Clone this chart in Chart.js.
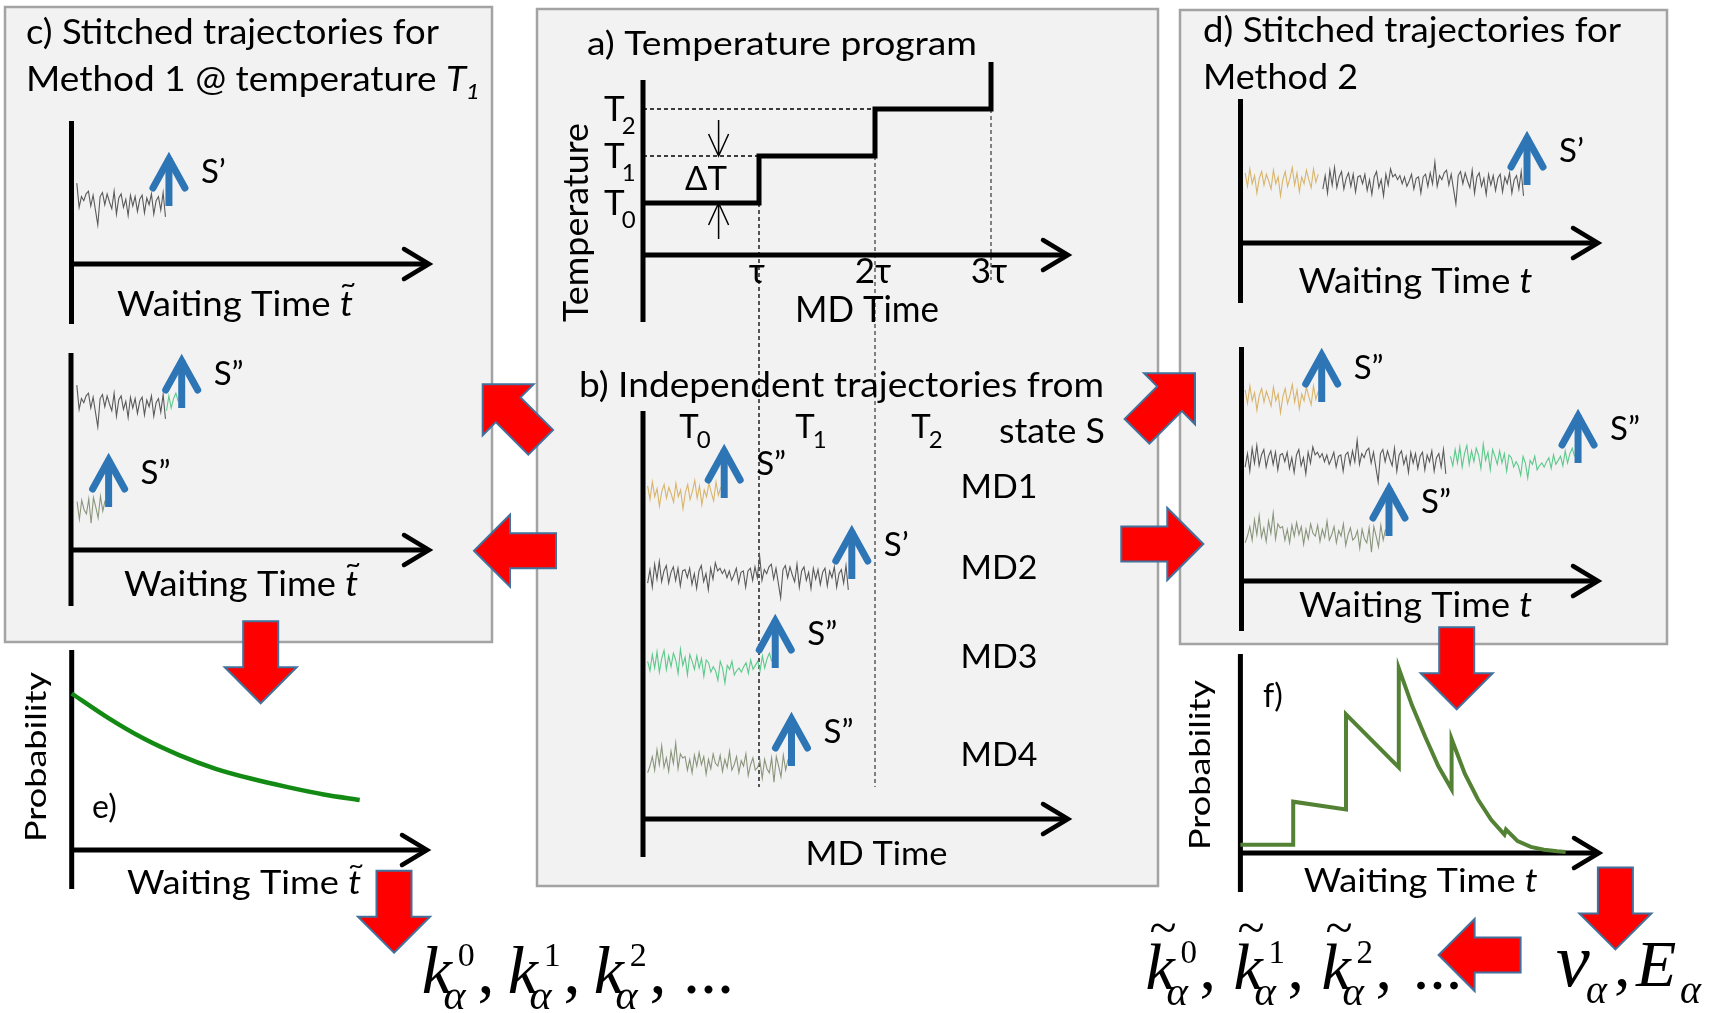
<!DOCTYPE html>
<html>
<head>
<meta charset="utf-8">
<script src="https://cdn.jsdelivr.net/npm/chart.js@4.4.1/dist/chart.umd.min.js"></script>
<style>
  html, body { margin: 0; padding: 0; background: #fff; }
  #fig { position: absolute; left: 0; top: 0; }
</style>
</head>
<body>
<canvas id="fig" width="1733" height="1013"></canvas>
<script>
// ---------------- data ----------------
// a) temperature program (MD time in units of tau)
const stepTimes = [0, 1, 2, 3];
const stepTemps = [300, 350, 400, 450];
const tempNames = ['0', '1', '2'];
const tauTicks = [1, 2, 3];
const tauTickLabels = ['τ', '2τ', '3τ'];

// b) independent MD trajectories
const mdNames = ['MD1', 'MD2', 'MD3', 'MD4'];
const exitTimes = [0.67, 1.77, 1.11, 1.25];
const exitStates = ['S\u201D', 'S\u2019', 'S\u201D', 'S\u201D'];
const trajStart = 0.04;

const md1Noise = [6, -4, 9, -2, 4, -9, 2, 7, -3, 5, 0, -6, 8, -2, 3, -11,
  1, 7, -4, 2, 10, -3, 6, -8, 3, -2, 8, 1, -5, 9, -1, 5];
const md2Noise = [-6, 4, -9, 8, -3, 10, -5, 3, 7, -6,
  2, 6, -4, 5, -8, 3, 4, -2, 5, -7,
  1, -10, 3, 7, -5, 1, -11, 5, -3, 9,
  3, 5, 1, 4, -2, 3, -4, 0, 5, -6,
  2, 3, -9, 3, 5, -4, 6, -2, 14, -4,
  4, 1, 6, 8, -3, 5, -6, -17, 4, 7,
  -2, 6, 0, -5, 8, -9, 3, 6, -4, 2,
  -10, 5, -3, 4, -7, 2, 5, -8, 3, -2,
  6, -9, 1, 4, -6, 7, -11];
const md3Noise = [2, -5, 7, -3, 9, -6, 4, 10, -4, 6,
  -2, 8, 3, -7, 11, -1, 5, -8, 7, 2,
  -4, 6, -3, 4, -9, 3, 1, -6, -2, -5,
  -12, 2, -3, -14, -1, -4, 2, -8, -5, -3,
  -6, -2, 1, -7, 3, -4, -1, 2, -5, 6,
  -3, 4, 8, 2];
const md4Noise = [-8, -3, 4, -6, 9, -2, 12, -4, 3, -7,
  8, -1, 14, -5, 6, 3, 4, -6, 2, -8,
  5, -3, 7, -2, 4, -9, 2, -5, 6, -1,
  -3, 5, -7, 2, -4, 8, -6, -2, 4, -8,
  1, -3, 6, -10, -2, 3, -6, -4, 1, -12,
  2, -5, -8, 3, -15, 4, -3, -11, 5, -6,
  2];

// e) waiting time distribution, method 1
const decayTime = [0, 1, 2, 3, 4, 5, 6, 7, 8];
const decayProb = [1.0, 0.846, 0.712, 0.605, 0.519, 0.455, 0.402, 0.355, 0.32];

// f) waiting time distribution, method 2 (time in units of tau)
const sawTime = [0, 1, 1, 2, 2, 3, 3, 3.25, 3.5, 3.75, 4, 4, 4.25, 4.5, 4.75, 5, 5.03, 5.25, 5.5, 5.75, 6, 6.16];
const sawProb = [0.045, 0.045, 0.278, 0.236, 0.751, 0.464, 1.0, 0.8, 0.63, 0.47, 0.345, 0.618, 0.43, 0.29, 0.18, 0.10, 0.127, 0.064, 0.033, 0.018, 0.009, 0.005];

// ---------------- styles / layout ----------------
const W = 1733, H = 1013;
const SANS = "Lato, 'Noto Sans', 'DejaVu Sans', sans-serif";
const SERIF = "'Liberation Serif', 'Times New Roman', serif";
const mdColors = ['#d9b56c', '#5a5a5a', '#5cc98a', '#8a967c'];
const BLUE = '#2e75b6';
const SIG_K = 1.35; // px per signal unit

const BOXES = [[5, 7, 492, 642], [537, 9, 1158, 886], [1180, 10, 1667, 644]];
// lane centres of the trajectories, px above each x axis
const LANES_PX = { b: [325, 244, 155, 57], c1: [62], c2: [146, 47], d1: [62], d2: [183, 122, 49] };
const AXES = [
  { x: 643, y: 255, top: 80, bottom: 322, tip: 1073 },
  { x: 643, y: 819, top: 411, bottom: 857, tip: 1073 },
  { x: 71.5, y: 264, top: 121, bottom: 324, tip: 434 },
  { x: 71, y: 550, top: 353, bottom: 606, tip: 434 },
  { x: 1240.5, y: 243, top: 99, bottom: 303, tip: 1603 },
  { x: 1241.5, y: 581, top: 347, bottom: 631, tip: 1603 },
  { x: 71.7, y: 850, top: 650, bottom: 889, tip: 432 },
  { x: 1240.4, y: 853, top: 654, bottom: 892, tip: 1604 }
];
// red block arrows: tip and pointing direction (deg)
const RED_ARROWS = [
  [260.7, 703.3, 90], [1456.7, 709.3, 90], [394, 952.7, 90], [1615.4, 949.4, 90],
  [1438.6, 955, 180], [474, 550.7, 180], [1203.3, 544, 0],
  [482.7, 384.3, 225], [1195, 373.3, -45]
];

function xLin(ox, kx) {
  return { type: 'linear', position: 'bottom', display: false, bounds: 'data', min: -ox / kx, max: (W - ox) / kx };
}
function yLin(oy, ky, v0 = 0) {
  return { type: 'linear', position: 'left', display: false, bounds: 'data', min: v0 + (oy - H) / ky, max: v0 + oy / ky };
}

const scales = {
  xAB: xLin(643, 116), yT: yLin(203, 0.94, 300), yB: yLin(819, SIG_K),
  xC: xLin(71.5, 116), yC1: yLin(264, SIG_K), yC2: yLin(550, SIG_K),
  xD: xLin(1240.5, 116), yD1: yLin(243, SIG_K), yD2: yLin(581, SIG_K),
  xE: xLin(71.7, 36), yE: yLin(850, 156.5),
  xF: xLin(1240.4, 52.8), yF: yLin(853, 184.6)
};
const LANES = {};
for (const k in LANES_PX) LANES[k] = LANES_PX[k].map(p => p / SIG_K);

// ---------------- build series ----------------
const noises = [md1Noise, md2Noise, md3Noise, md4Noise];
const md = noises.map((nz, i) => nz.map((v, k) => ({
  t: trajStart + (exitTimes[i] - trajStart) * k / (nz.length - 1), v
})));
const atT1 = i => md[i].filter(p => p.t >= stepTimes[1] && p.t <= stepTimes[2]);
const shift = (pts, dt) => pts.map(p => ({ t: p.t + dt, v: p.v }));
const last = pts => pts[pts.length - 1].t;

const datasets = [];
const exits = [];
function trace(pts, lane, xID, yID, color) {
  datasets.push({
    data: pts.map(p => ({ x: p.t, y: lane + p.v })), xAxisID: xID, yAxisID: yID,
    borderColor: color, borderWidth: 1.1, pointRadius: 0, tension: 0, fill: false
  });
}
function exitAt(pts, lane, xID, yID, label) {
  exits.push({ t: last(pts), lane, xID, yID, label });
}

// a) step program
datasets.push({
  data: stepTimes.map((t, i) => ({ x: t, y: stepTemps[i] })), xAxisID: 'xAB', yAxisID: 'yT',
  stepped: 'before', borderColor: '#000', borderWidth: 5, pointRadius: 0,
  borderJoinStyle: 'miter', borderCapStyle: 'butt'
});
// b) MD1..MD4
md.forEach((pts, i) => {
  trace(pts, LANES.b[i], 'xAB', 'yB', mdColors[i]);
  exitAt(pts, LANES.b[i], 'xAB', 'yB', exitStates[i]);
});
// c) method 1, segments at T1
const c2seg = shift(atT1(1), trajStart - stepTimes[1]);
trace(c2seg, LANES.c1[0], 'xC', 'yC1', mdColors[1]);
exitAt(c2seg, LANES.c1[0], 'xC', 'yC1', exitStates[1]);
trace(c2seg, LANES.c2[0], 'xC', 'yC2', mdColors[1]);
const c3seg = shift(atT1(2), last(c2seg) - stepTimes[1]);
trace(c3seg, LANES.c2[0], 'xC', 'yC2', mdColors[2]);
exitAt(c3seg, LANES.c2[0], 'xC', 'yC2', exitStates[2]);
const c4seg = shift(atT1(3), trajStart - stepTimes[1]);
trace(c4seg, LANES.c2[1], 'xC', 'yC2', mdColors[3]);
exitAt(c4seg, LANES.c2[1], 'xC', 'yC2', exitStates[3]);
// d) method 2, whole trajectories stitched
trace(md[0], LANES.d1[0], 'xD', 'yD1', mdColors[0]);
const d2seg = shift(md[1], exitTimes[0]);
trace(d2seg, LANES.d1[0], 'xD', 'yD1', mdColors[1]);
exitAt(d2seg, LANES.d1[0], 'xD', 'yD1', exitStates[1]);
trace(md[0], LANES.d2[0], 'xD', 'yD2', mdColors[0]);
exitAt(md[0], LANES.d2[0], 'xD', 'yD2', exitStates[0]);
trace(md[1], LANES.d2[1], 'xD', 'yD2', mdColors[1]);
const d3seg = shift(md[2], exitTimes[1]);
trace(d3seg, LANES.d2[1], 'xD', 'yD2', mdColors[2]);
exitAt(d3seg, LANES.d2[1], 'xD', 'yD2', exitStates[2]);
trace(md[3], LANES.d2[2], 'xD', 'yD2', mdColors[3]);
exitAt(md[3], LANES.d2[2], 'xD', 'yD2', exitStates[3]);
// e), f)
datasets.push({
  data: decayTime.map((t, i) => ({ x: t, y: decayProb[i] })), xAxisID: 'xE', yAxisID: 'yE',
  borderColor: '#138a13', borderWidth: 4.5, pointRadius: 0, cubicInterpolationMode: 'monotone'
});
datasets.push({
  data: sawTime.map((t, i) => ({ x: t, y: sawProb[i] })), xAxisID: 'xF', yAxisID: 'yF',
  borderColor: '#548235', borderWidth: 4, pointRadius: 0, tension: 0, borderJoinStyle: 'miter'
});

// ---------------- drawing helpers ----------------
function drawRuns(ctx, parts, x, y, o = {}) {
  const base = o.size || 33;
  ctx.save();
  ctx.fillStyle = '#000';
  ctx.textBaseline = 'alphabetic';
  ctx.textAlign = 'left';
  let w = 0;
  const placed = parts.map(p => {
    const size = p.size || base;
    const font = `${p.style || ''} ${size}px ${p.family || o.family || SANS}`;
    ctx.font = font;
    const adv = ctx.measureText(p.t).width;
    const at = p.x !== undefined ? p.x : w + (p.dx || 0);
    w = Math.max(w, at + adv);
    return { p, font, at, adv, size };
  });
  const sx = o.width ? o.width / w : 1;
  const left = o.align === 'center' ? x - w * sx / 2 : x;
  ctx.translate(left, y);
  if (o.rotate) ctx.rotate(o.rotate);
  ctx.scale(sx, 1);
  for (const q of placed) {
    ctx.font = q.font;
    ctx.fillText(q.p.t, q.at, q.p.dy || 0);
    if (q.p.tilde) {
      ctx.save();
      ctx.font = `${Math.round(q.size * 0.75)}px ${q.p.family || o.family || SANS}`;
      ctx.textAlign = 'center';
      ctx.textBaseline = 'middle';
      ctx.fillText('~', q.at + q.adv * (q.p.tx || 0.62), (q.p.dy || 0) - q.size * 0.88);
      ctx.restore();
    }
  }
  ctx.restore();
}

function redArrow(ctx, tx, ty, deg) {
  const a = deg * Math.PI / 180, len = 82, sw = 17.5, hw = 36, hl = 36;
  const pts = [[0, 0], [-hl, -hw], [-hl, -sw], [-len, -sw], [-len, sw], [-hl, sw], [-hl, hw]];
  ctx.save();
  ctx.translate(tx, ty);
  ctx.rotate(a);
  ctx.beginPath();
  pts.forEach(([px, py], i) => i ? ctx.lineTo(px, py) : ctx.moveTo(px, py));
  ctx.closePath();
  ctx.fillStyle = '#ff0000';
  ctx.fill();
  ctx.lineWidth = 2;
  ctx.strokeStyle = '#41719c';
  ctx.lineJoin = 'miter';
  ctx.stroke();
  ctx.restore();
}

function blueArrow(ctx, x, yb) {
  const tip = yb - 54;
  ctx.save();
  ctx.strokeStyle = BLUE;
  ctx.lineWidth = 7;
  ctx.lineCap = 'butt';
  ctx.beginPath(); ctx.moveTo(x, yb); ctx.lineTo(x, tip + 6); ctx.stroke();
  ctx.lineCap = 'round';
  ctx.lineJoin = 'miter';
  ctx.beginPath();
  ctx.moveTo(x - 16, tip + 36); ctx.lineTo(x, tip + 7); ctx.lineTo(x + 16, tip + 36);
  ctx.stroke();
  ctx.restore();
  return tip;
}

function thinArrow(ctx, x, y0, y1) {
  const d = Math.sign(y1 - y0);
  ctx.beginPath();
  ctx.moveTo(x, y0); ctx.lineTo(x, y1);
  ctx.moveTo(x - 10, y1 - d * 22); ctx.lineTo(x, y1); ctx.lineTo(x + 10, y1 - d * 22);
  ctx.stroke();
}

function line(ctx, x0, y0, x1, y1) {
  ctx.beginPath(); ctx.moveTo(x0, y0); ctx.lineTo(x1, y1); ctx.stroke();
}

const WT = (tilde) => [{ t: 'Waiting Time ' }, { t: 't', style: 'italic', tilde }];

function kSeries(ctx, x, y, size, gap, tilde) {
  const parts = [];
  for (let i = 0; i < 3; i++) {
    const gx = i * gap;
    parts.push({ t: 'k', style: 'italic', x: gx, tilde, tx: 0.6 });
    parts.push({ t: 'α', style: 'italic', size: size * 0.62, x: gx + size * 0.32, dy: size * 0.24 });
    parts.push({ t: String(i), size: size * 0.5, x: gx + size * 0.53, dy: -size * 0.39 });
    parts.push({ t: ',', x: gx + size * 0.82 });
  }
  parts.push({ t: '...', x: 3 * gap + size * 0.05 });
  drawRuns(ctx, parts, x, y, { size, family: SERIF });
}

// ---------------- plugin ----------------
const figurePlugin = {
  id: 'figure',
  beforeDatasetsDraw(chart) {
    const ctx = chart.ctx;
    const X = chart.scales.xAB, T = chart.scales.yT;
    ctx.save();
    // panel boxes
    ctx.fillStyle = '#f2f2f2';
    ctx.strokeStyle = '#a3a3a3';
    ctx.lineWidth = 2.5;
    for (const [l, t, r, b] of BOXES) { ctx.fillRect(l, t, r - l, b - t); ctx.strokeRect(l, t, r - l, b - t); }
    // red arrows
    for (const [x, y, d] of RED_ARROWS) redArrow(ctx, x, y, d);
    // dashed guides of the temperature program
    ctx.strokeStyle = '#000';
    ctx.lineWidth = 1.3;
    ctx.setLineDash([4, 3]);
    for (let i = 1; i <= 2; i++) {
      line(ctx, X.getPixelForValue(0), T.getPixelForValue(stepTemps[i]), X.getPixelForValue(stepTimes[i]), T.getPixelForValue(stepTemps[i]));
    }
    line(ctx, X.getPixelForValue(tauTicks[0]), T.getPixelForValue(stepTemps[0]), X.getPixelForValue(tauTicks[0]), 787);
    ctx.strokeStyle = '#444';
    line(ctx, X.getPixelForValue(tauTicks[1]), T.getPixelForValue(stepTemps[1]), X.getPixelForValue(tauTicks[1]), 787);
    line(ctx, X.getPixelForValue(tauTicks[2]), T.getPixelForValue(stepTemps[2]), X.getPixelForValue(tauTicks[2]), 280);
    ctx.setLineDash([]);
    // axes with open arrow heads
    ctx.strokeStyle = '#000';
    for (const a of AXES) {
      ctx.lineWidth = 5;
      ctx.lineCap = 'butt';
      line(ctx, a.x, a.top, a.x, a.bottom);
      line(ctx, a.x, a.y, a.tip - 6, a.y);
      ctx.lineWidth = 4.5;
      ctx.lineCap = 'round';
      ctx.lineJoin = 'miter';
      ctx.beginPath();
      ctx.moveTo(a.tip - 30, a.y - 15); ctx.lineTo(a.tip - 5, a.y); ctx.lineTo(a.tip - 30, a.y + 15);
      ctx.stroke();
    }
    ctx.restore();
  },
  afterDatasetsDraw(chart) {
    const ctx = chart.ctx;
    const S = chart.scales;
    const X = S.xAB, T = S.yT, B = S.yB;

    // blue exit arrows + exit state labels
    for (const e of exits) {
      const x = S[e.xID].getPixelForValue(e.t + 0.03);
      const yb = S[e.yID].getPixelForValue(e.lane) + 4;
      const tip = blueArrow(ctx, x, yb);
      drawRuns(ctx, [{ t: e.label }], x + 32, tip + 31, { size: 33 });
    }

    // a) temperature program
    drawRuns(ctx, [{ t: 'a) Temperature program' }], 587, 55, { size: 33, width: 390 });
    drawRuns(ctx, [{ t: 'Temperature' }], 587.6, 322, { size: 35, width: 199, rotate: -Math.PI / 2 });
    tempNames.forEach((n, i) => {
      const y = T.getPixelForValue(stepTemps[i]);
      drawRuns(ctx, [{ t: 'T' }, { t: n, size: 24, dy: 13, dx: -3 }], 604, y + 12, { size: 35 });
    });
    drawRuns(ctx, [{ t: 'ΔT' }], 706, 190, { size: 33, align: 'center' });
    ctx.save();
    ctx.strokeStyle = '#000';
    ctx.lineWidth = 1.5;
    thinArrow(ctx, 718.6, 120, T.getPixelForValue(stepTemps[1]));
    thinArrow(ctx, 718.6, 239, T.getPixelForValue(stepTemps[0]));
    ctx.restore();
    tauTicks.forEach((v, i) => {
      drawRuns(ctx, [{ t: tauTickLabels[i] }], X.getPixelForValue(v) - 2, 283, { size: 35, align: 'center' });
    });
    drawRuns(ctx, [{ t: 'MD Time' }], 795, 322, { size: 37, width: 144 });

    // b) trajectories
    drawRuns(ctx, [{ t: 'b) Independent trajectories from' }], 579, 397, { size: 35, width: 525 });
    drawRuns(ctx, [{ t: 'state S' }], 999, 443, { size: 35, width: 106 });
    tempNames.forEach((n, i) => {
      drawRuns(ctx, [{ t: 'T' }, { t: n, size: 24, dy: 10, dx: -2 }], X.getPixelForValue(stepTimes[i] + 0.5) - 6, 438, { size: 33, align: 'center' });
    });
    mdNames.forEach((n, i) => {
      drawRuns(ctx, [{ t: n }], 999, B.getPixelForValue(LANES.b[i]) + 4, { size: 33, align: 'center', width: 77 });
    });
    drawRuns(ctx, [{ t: 'MD Time' }], 805.5, 865, { size: 33, width: 142 });

    // c) method 1
    drawRuns(ctx, [{ t: 'c) Stitched trajectories for' }], 26, 44, { size: 35, width: 413 });
    drawRuns(ctx, [{ t: 'Method 1 @ temperature ' }, { t: 'T', style: 'italic' }, { t: '1', style: 'italic', size: 22, dy: 8 }], 26, 90.5, { size: 34, width: 454 });
    drawRuns(ctx, WT(true), 117, 315.6, { size: 35, width: 236 });
    drawRuns(ctx, WT(true), 124, 595.5, { size: 35, width: 234 });

    // d) method 2
    drawRuns(ctx, [{ t: 'd) Stitched trajectories for' }], 1203, 42, { size: 35, width: 418 });
    drawRuns(ctx, [{ t: 'Method 2' }], 1203, 89, { size: 35, width: 155 });
    drawRuns(ctx, WT(false), 1298.4, 292.5, { size: 35, width: 234 });
    drawRuns(ctx, WT(false), 1299, 616.6, { size: 35, width: 233 });

    // e), f)
    drawRuns(ctx, [{ t: 'Probability' }], 45.5, 842, { size: 29, width: 170, rotate: -Math.PI / 2 });
    drawRuns(ctx, [{ t: 'e)' }], 92, 818, { size: 32 });
    drawRuns(ctx, WT(true), 127, 893.5, { size: 32, width: 234 });
    drawRuns(ctx, [{ t: 'Probability' }], 1209.5, 850, { size: 29, width: 170, rotate: -Math.PI / 2 });
    drawRuns(ctx, [{ t: 'f)' }], 1263, 707, { size: 32 });
    drawRuns(ctx, WT(false), 1303.7, 892, { size: 32, width: 234 });

    // rate constants
    kSeries(ctx, 421.7, 993, 68, 86, false);
    kSeries(ctx, 1145.4, 989, 66, 88, true);
    drawRuns(ctx, [
      { t: 'ν', style: 'italic', size: 76, x: 0 },
      { t: 'α', style: 'italic', size: 40, x: 30, dy: 17 },
      { t: ',', x: 58 },
      { t: 'E', style: 'italic', x: 80 },
      { t: 'α', style: 'italic', size: 40, x: 124, dy: 17 }
    ], 1556, 985.6, { size: 66, family: SERIF });
  }
};

new Chart(document.getElementById('fig'), {
  type: 'line',
  data: { datasets },
  options: {
    responsive: false,
    maintainAspectRatio: false,
    animation: false,
    devicePixelRatio: 1,
    events: [],
    layout: { padding: 0 },
    plugins: { legend: { display: false }, tooltip: { enabled: false }, title: { display: false } },
    scales
  },
  plugins: [figurePlugin]
});
</script>
</body>
</html>
